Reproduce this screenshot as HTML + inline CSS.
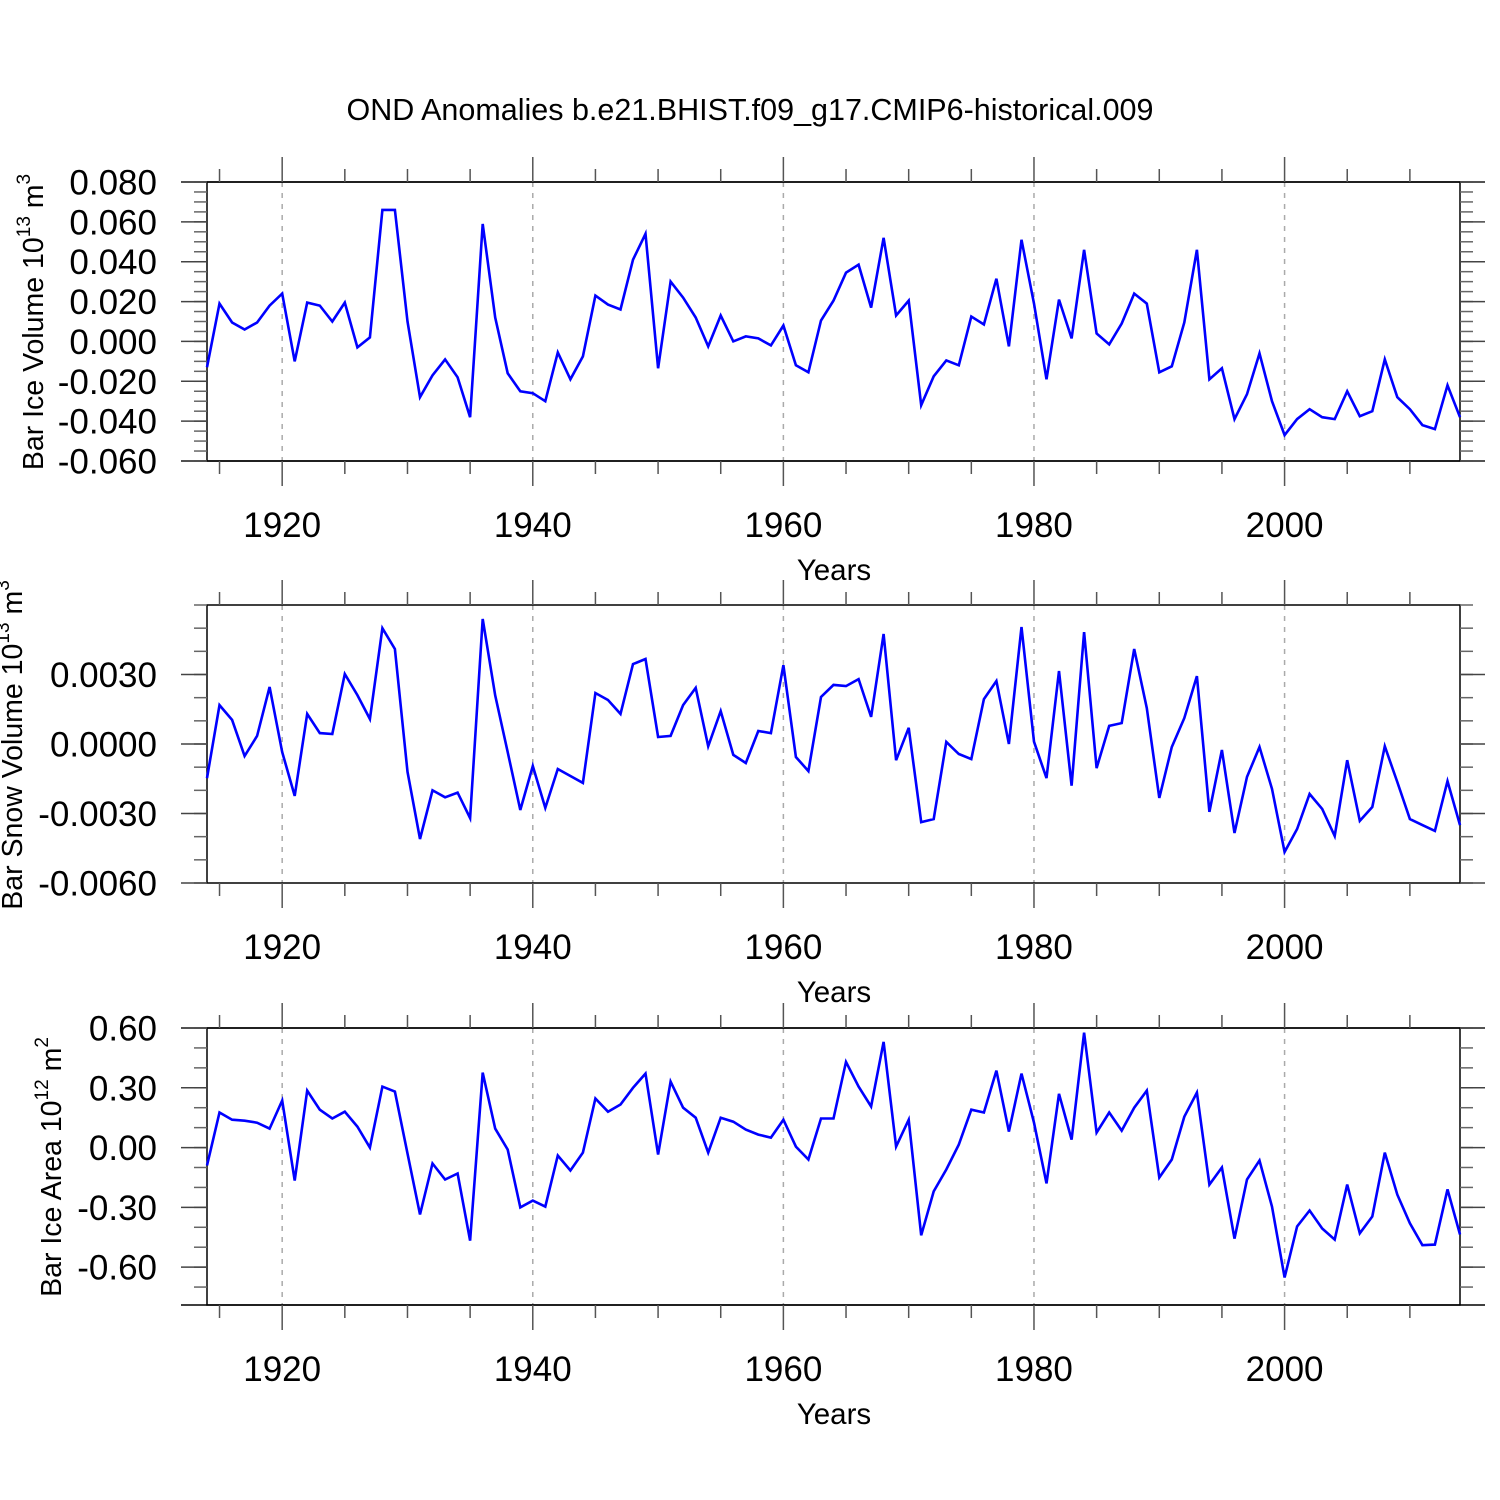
<!DOCTYPE html>
<html><head><meta charset="utf-8">
<style>body{margin:0;background:#fff}svg{display:block}text{font-family:"Liberation Sans",Arial,sans-serif}</style>
</head><body>
<svg id="chart" width="1500" height="1500" viewBox="0 0 1500 1500" xmlns="http://www.w3.org/2000/svg">
<rect width="1500" height="1500" fill="#fff"/>
<text x="750" y="120" font-size="30.5" text-anchor="middle">OND Anomalies b.e21.BHIST.f09_g17.CMIP6-historical.009</text>
</svg>
<script>
const startYear = 1914;
const iceVolume = [-0.013,0.019,0.0095,0.006,0.0095,0.018,0.024,-0.010,0.0195,0.018,0.010,0.0195,-0.003,0.002,0.066,0.066,0.010,-0.028,-0.017,-0.009,-0.018,-0.038,0.059,0.012,-0.016,-0.025,-0.026,-0.030,-0.0055,-0.019,-0.0075,0.023,0.0185,0.016,0.041,0.054,-0.0135,0.030,0.022,0.012,-0.0025,0.013,0.000,0.0025,0.0015,-0.002,0.008,-0.012,-0.0155,0.0105,0.0205,0.0345,0.0385,0.017,0.052,0.013,0.0205,-0.032,-0.0175,-0.0095,-0.012,0.0125,0.0085,0.0315,-0.0025,0.051,0.019,-0.019,0.021,0.0015,0.046,0.004,-0.0015,0.009,0.024,0.019,-0.0155,-0.0125,0.0095,0.046,-0.019,-0.0135,-0.039,-0.0265,-0.006,-0.030,-0.047,-0.039,-0.034,-0.038,-0.039,-0.025,-0.0375,-0.035,-0.009,-0.028,-0.034,-0.042,-0.044,-0.022,-0.038];
const snowVolume = [-0.00147,0.00168,0.00104,-0.00052,0.00035,0.00246,-0.00035,-0.00224,0.0013,0.00047,0.00043,0.00302,0.00211,0.00108,0.0050,0.0041,-0.0012,-0.0041,-0.0020,-0.0023,-0.0021,-0.0032,0.0054,0.0021,-0.00035,-0.00285,-0.00095,-0.00276,-0.00108,-0.00138,-0.00168,0.0022,0.0019,0.0013,0.00345,0.00367,0.0003,0.00035,0.00168,0.00242,-0.0001,0.00142,-0.00047,-0.00082,0.00056,0.00047,0.0034,-0.00056,-0.00117,0.00203,0.00255,0.0025,0.0028,0.00117,0.00475,-0.0007,0.0007,-0.00337,-0.00324,0.00009,-0.00043,-0.00065,0.00194,0.00272,0,0.00505,0.0001,-0.00147,0.00315,-0.0018,0.00483,-0.00104,0.00078,0.0009,0.0041,0.00155,-0.00233,-0.00013,0.00112,0.00293,-0.00293,-0.00026,-0.00384,-0.00142,-0.00013,-0.00194,-0.00466,-0.00367,-0.00216,-0.0028,-0.00397,-0.0007,-0.00332,-0.00272,-0.0001,-0.00164,-0.00324,-0.0035,-0.00375,-0.0016,-0.0035];
const iceArea = [-0.09,0.176,0.14,0.135,0.125,0.095,0.236,-0.166,0.286,0.19,0.146,0.18,0.105,0,0.306,0.281,-0.03,-0.336,-0.08,-0.16,-0.13,-0.467,0.376,0.095,-0.01,-0.30,-0.266,-0.296,-0.04,-0.115,-0.025,0.246,0.18,0.216,0.30,0.371,-0.035,0.331,0.20,0.15,-0.025,0.15,0.13,0.09,0.065,0.05,0.14,0.005,-0.06,0.146,0.146,0.43,0.306,0.206,0.53,0.005,0.14,-0.44,-0.22,-0.11,0.015,0.19,0.176,0.386,0.08,0.371,0.125,-0.18,0.27,0.04,0.577,0.075,0.176,0.085,0.20,0.286,-0.15,-0.06,0.155,0.276,-0.186,-0.10,-0.457,-0.16,-0.065,-0.296,-0.652,-0.396,-0.316,-0.406,-0.462,-0.186,-0.43,-0.346,-0.025,-0.236,-0.38,-0.49,-0.487,-0.21,-0.436];
const xTickLabels = [1920,1940,1960,1980,2000];
const iceVolTicks = [0.08,0.06,0.04,0.02,0,-0.02,-0.04,-0.06];
const snowTicks = [0.003,0,-0.003,-0.006];
const areaTicks = [0.6,0.3,0,-0.3,-0.6];

const NS="http://www.w3.org/2000/svg";
const svg=document.getElementById('chart');
function mk(tag,attrs,parent){const e=document.createElementNS(NS,tag);for(const k in attrs)e.setAttribute(k,attrs[k]);(parent||svg).appendChild(e);return e;}
const X0=207,X1=1460,Y0yr=1914,Y1yr=2014;
const xs=y=>X0+(y-Y0yr)*(X1-X0)/(Y1yr-Y0yr);

function panel(cfg){
  const g=mk('g',{});
  
  
  const ys=v=>cfg.top+(cfg.vmax-v)*(cfg.bot-cfg.top)/(cfg.vmax-cfg.vmin);
  xTickLabels.forEach(yr=>{
    const l=mk('line',{x1:xs(yr),x2:xs(yr),y1:cfg.top,y2:cfg.bot,stroke:'#aaa','stroke-width':1.5,'stroke-dasharray':'5,6'},g);
    
    
  });
  const f=mk('rect',{x:X0,y:cfg.top,width:X1-X0,height:cfg.bot-cfg.top,fill:'none',stroke:'#000','stroke-width':1.5},g);
  
  
  if(cfg.ext){mk('line',{x1:181,x2:1485,y1:cfg.top,y2:cfg.top,stroke:'#000','stroke-width':1.5},g);mk('line',{x1:181,x2:1485,y1:cfg.bot,y2:cfg.bot,stroke:'#000','stroke-width':1.5},g);}
  for(let yr=1915;yr<=2010;yr+=5){
    const maj=yr%20===0, L=maj?25:13;
    mk('line',{x1:xs(yr),x2:xs(yr),y1:cfg.top,y2:cfg.top-L,stroke:'#555','stroke-width':1.5},g);
    mk('line',{x1:xs(yr),x2:xs(yr),y1:cfg.bot,y2:cfg.bot+L,stroke:'#555','stroke-width':1.5},g);
  }
  xTickLabels.forEach(yr=>{
    const t=mk('text',{x:xs(yr),y:cfg.bot+76,'font-size':35,'text-anchor':'middle'},g);
    t.textContent=yr;
    
    
  });
  const xt=mk('text',{x:834,y:cfg.bot+119,'font-size':29.5,'text-anchor':'middle'},g);
  xt.textContent='Years';
  
  
  const n=Math.round((cfg.vmax-cfg.vmin)/cfg.minor);
  for(let i=0;i<=n+1;i++){
    const v=cfg.vmax-i*cfg.minor; const y=ys(v);
    if(y>cfg.bot+0.5)break;
    mk('line',{x1:X0,x2:X0-13,y1:y,y2:y,stroke:'#666','stroke-width':1.5},g);
    mk('line',{x1:X1,x2:X1+13,y1:y,y2:y,stroke:'#666','stroke-width':1.5},g);
  }
  cfg.ticks.forEach(v=>{
    const y=ys(v);
    mk('line',{x1:X0,x2:181,y1:y,y2:y,stroke:'#444','stroke-width':1.5},g);
    mk('line',{x1:X1,x2:1485,y1:y,y2:y,stroke:'#444','stroke-width':1.5},g);
    const t=mk('text',{x:157,y:y+12.5,'font-size':35,'text-anchor':'end'},g);
    t.textContent=v.toFixed(cfg.dec);
    
    
  });
  const yt=mk('text',{transform:`translate(${cfg.tx},${cfg.ty}) rotate(-90)`,'font-size':28.5,'text-anchor':'middle'},g);
  yt.innerHTML=cfg.title;
  
  
  const pts=cfg.data.map((v,i)=>xs(startYear+i).toFixed(1)+','+ys(v).toFixed(1)).join(' ');
  const p=mk('polyline',{points:pts,fill:'none',stroke:'#0000ff','stroke-width':2.6,'stroke-linejoin':'miter'},g);
  
  
}
panel({name:'ice-volume-panel',top:182,bot:461,vmax:0.08,vmin:-0.06,minor:0.005,ticks:iceVolTicks,dec:3,data:iceVolume,ext:true,tx:43,ty:322,
  title:'Bar Ice Volume 10<tspan dy="-13" font-size="19">13</tspan><tspan dy="13"> m</tspan><tspan dy="-13" font-size="19">3</tspan>'});
panel({name:'snow-volume-panel',top:605,bot:883,vmax:0.006,vmin:-0.006,minor:0.001,ticks:snowTicks,dec:4,data:snowVolume,ext:false,tx:22,ty:745,
  title:'Bar Snow Volume 10<tspan dy="-13" font-size="19">13</tspan><tspan dy="13"> m</tspan><tspan dy="-13" font-size="19">3</tspan>'});
panel({name:'ice-area-panel',top:1028,bot:1305,vmax:0.6,vmin:-0.79,minor:0.1,ticks:areaTicks,dec:2,data:iceArea,ext:true,tx:61,ty:1167,
  title:'Bar Ice Area 10<tspan dy="-13" font-size="19">12</tspan><tspan dy="13"> m</tspan><tspan dy="-13" font-size="19">2</tspan>'});
</script>
</body></html>
